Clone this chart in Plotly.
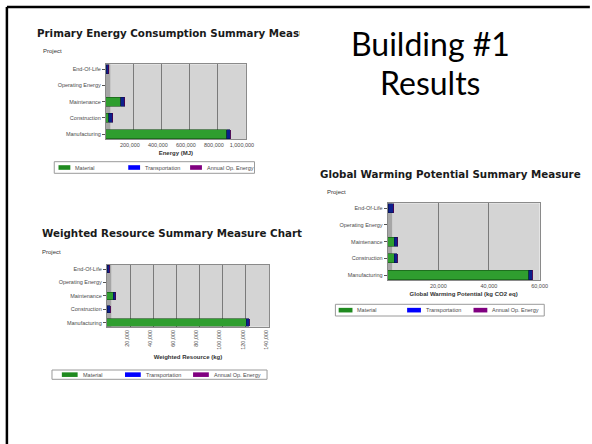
import plotly.graph_objects as go

# ---------------- data ----------------
categories = ["Manufacturing", "Construction", "Maintenance", "Operating Energy", "End-Of-Life"]
series_names = ["Material", "Transportation", "Annual Op. Energy"]

energy_material = [862000, 20000, 105000, 0, 2000]
energy_transport = [25000, 28000, 30000, 0, 20000]
energy_annual = [0, 0, 0, 0, 0]
energy_ticks = [200000, 400000, 600000, 800000, 1000000]

resource_material = [120500, 500, 5500, 0, 300]
resource_transport = [2500, 2300, 2000, 0, 1700]
resource_annual = [0, 0, 0, 0, 0]
resource_ticks = [20000, 40000, 60000, 80000, 100000, 120000, 140000]

gwp_material = [55700, 2500, 2600, 0, 300]
gwp_transport = [1300, 1300, 1400, 0, 2000]
gwp_annual = [0, 0, 0, 0, 0]
gwp_ticks = [20000, 40000, 60000]

chart_titles = ["Primary Energy Consumption Summary Measure Chart",
                "Weighted Resource Summary Measure Chart",
                "Global Warming Potential Summary Measure"]
axis_titles = ["Energy (MJ)", "Weighted Resource (kg)", "Global Warming Potential (kg CO2 eq)"]
slide_title = ["Building #1", "Results"]

# ---------------- style / layout ----------------
W, H = 592, 444
def px(x):
    return x / W
def py(y):
    return 1 - y / H

series_colors = ["#2f9e2f", "#0c1f8c", "#800080"]
legend_colors = ["#1f8a1f", "#0000ff", "#800080"]
line_colors = ["#145214", "#06104a", "#500050"]

charts = [
    dict(data=[energy_material, energy_transport, energy_annual], ticks=energy_ticks,
         title_x=35, title_y=33, clip=263, proj=(41.5, 51.5),
         plot=(107.3, 249.3, 64.3, 139), xmax=1000000, angle=0, standoff=4, shift=-4,
         legend=(55, 258, 161.7, 173.3), sw=[59.3, 130, 192.7], sww=12),
    dict(data=[resource_material, resource_transport, resource_annual], ticks=resource_ticks,
         title_x=41, title_y=233, clip=None, proj=(41, 251.7),
         plot=(108.3, 272.7, 265, 326.7), xmax=140000, angle=-90, standoff=6, shift=-3,
         legend=(52.7, 270.7, 370, 379.3), sw=[62.7, 126.7, 195.7], sww=16),
    dict(data=[gwp_material, gwp_transport, gwp_annual], ticks=gwp_ticks,
         title_x=322, title_y=174, clip=None, proj=(329, 191.7),
         plot=(393, 547, 203.3, 280), xmax=60000, angle=0, standoff=4, shift=0,
         legend=(340, 551.7, 304.3, 316), sw=[343.3, 412.7, 480], sww=14),
]

fig = go.Figure()
annotations = []
shapes = []
small_font = dict(family="Liberation Sans, Arial", size=5.5, color="#4a4a4a")

for i, c in enumerate(charts):
    sfx = "" if i == 0 else str(i + 1)
    xa, ya = "x" + sfx, "y" + sfx
    for s in range(3):
        fig.add_trace(go.Bar(
            y=categories, x=c["data"][s], orientation="h", name=series_names[s],
            marker=dict(color=series_colors[s], line=dict(color=line_colors[s], width=0.6)),
            xaxis=xa, yaxis=ya, showlegend=False, hoverinfo="x+y+name"))
    x0, x1, y0, y1 = c["plot"]
    fig.layout["xaxis" + sfx] = dict(
        domain=[px(x0), px(x1)], anchor=ya, range=[0, c["xmax"]],
        tickmode="array", tickvals=c["ticks"], tickformat=",d", tickangle=c["angle"],
        ticklabelshift=c["shift"],
        showgrid=True, gridcolor="#7a7a7a", gridwidth=1, zeroline=False,
        showline=True, linecolor="#8a8a8a", linewidth=1, mirror=True,
        ticks="", tickfont=small_font,
        title=dict(text="<b>" + axis_titles[i] + "</b>", standoff=c["standoff"],
                   font=dict(family="Liberation Sans, Arial", size=6, color="#333333")),
        fixedrange=True)
    fig.layout["yaxis" + sfx] = dict(
        domain=[py(y1), py(y0)], anchor=xa, type="category",
        categoryorder="array", categoryarray=categories, range=[-0.3, 4.3],
        showgrid=False, zeroline=False, showline=True, linecolor="#8a8a8a",
        linewidth=1, mirror=True, ticks="outside", ticklen=3, tickcolor="#555555",
        tickfont=small_font, fixedrange=True)
    # darker side wall strip
    shapes.append(dict(type="rect", xref=xa + " domain", yref=ya + " domain",
                       x0=0, x1=4.5 / (x1 - x0), y0=0, y1=1, layer="below",
                       fillcolor="#a6a6a6", line=dict(width=0)))
    # titles
    ann = dict(text=chart_titles[i], x=px(c["title_x"]), y=py(c["title_y"]),
               xref="paper", yref="paper", xanchor="left", yanchor="middle",
               showarrow=False, align="left",
               font=dict(family="DejaVu Sans", size=10.3, color="#1a1a1a", weight="bold"))
    if c["clip"]:
        ann["width"] = c["clip"]
    annotations.append(ann)
    annotations.append(dict(text="Project", x=px(c["proj"][0]), y=py(c["proj"][1]),
                            xref="paper", yref="paper", xanchor="left", yanchor="middle",
                            showarrow=False, font=dict(family="Liberation Sans, Arial", size=6, color="#333333")))
    # legend box
    lx0, lx1, ly0, ly1 = c["legend"]
    shapes.append(dict(type="rect", xref="paper", yref="paper",
                       x0=px(lx0), x1=px(lx1), y0=py(ly1), y1=py(ly0),
                       line=dict(color="#9a9a9a", width=1), fillcolor="rgba(0,0,0,0)"))
    ym = (ly0 + ly1) / 2
    for s in range(3):
        sx = c["sw"][s]
        shapes.append(dict(type="rect", xref="paper", yref="paper",
                           x0=px(sx), x1=px(sx + c["sww"]), y0=py(ym + 2.3), y1=py(ym - 2.3),
                           line=dict(width=0), fillcolor=legend_colors[s]))
        annotations.append(dict(text=series_names[s], x=px(sx + c["sww"] + 3), y=py(ym),
                                xref="paper", yref="paper", xanchor="left", yanchor="middle",
                                showarrow=False, font=small_font))

# slide title
annotations.append(dict(text=slide_title[0], x=px(436), y=py(43), xref="paper", yref="paper",
                        xanchor="center", yanchor="middle", showarrow=False,
                        font=dict(family="Lato", size=32, color="#000000")))
annotations.append(dict(text=slide_title[1], x=px(436), y=py(82), xref="paper", yref="paper",
                        xanchor="center", yanchor="middle", showarrow=False,
                        font=dict(family="Lato", size=32, color="#000000")))
# slide frame (top and left edges visible)
shapes.append(dict(type="line", xref="paper", yref="paper", x0=px(7), x1=1.01, y0=py(7), y1=py(7),
                   line=dict(color="#000000", width=2.5)))
shapes.append(dict(type="line", xref="paper", yref="paper", x0=px(7), x1=px(7), y0=py(7), y1=-0.01,
                   line=dict(color="#000000", width=2.5)))

fig.update_layout(
    width=W, height=H, autosize=False, margin=dict(l=0, r=0, t=0, b=0),
    paper_bgcolor="white", plot_bgcolor="#d4d4d4", barmode="stack", bargap=0.45,
    showlegend=False, annotations=annotations, shapes=shapes,
)

fig.write_html("out.html", config={"displayModeBar": False},
               post_script="document.body.style.margin='0';document.body.style.overflow='hidden';")
